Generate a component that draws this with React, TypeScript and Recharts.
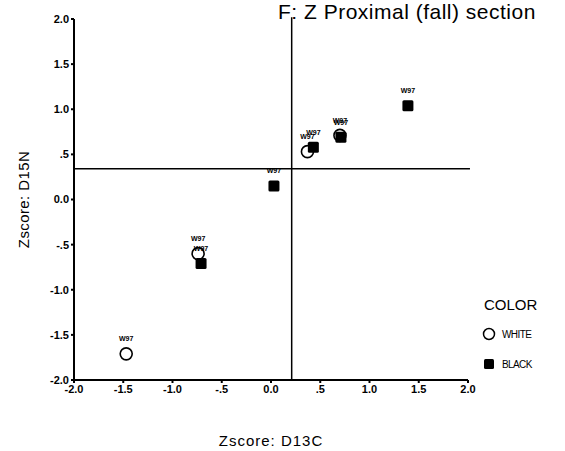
import React from 'react';
import {
  ScatterChart,
  Scatter,
  XAxis,
  YAxis,
  ReferenceLine,
  LabelList,
  Label,
} from 'recharts';

// Zscore: D13C / D15N
const whiteX = [-1.47, -0.74, 0.37, 0.7];
const whiteY = [-1.71, -0.6, 0.53, 0.71];
const blackX = [-0.71, 0.03, 0.43, 0.71, 1.39];
const blackY = [-0.71, 0.15, 0.58, 0.69, 1.04];
const pointLabels = ['W97', 'W97', 'W97', 'W97', 'W97'];
const ticks = [-2, -1.5, -1, -0.5, 0, 0.5, 1, 1.5, 2];
const meanX = 0.21;
const meanY = 0.34;

const whiteData = whiteX.map((x, i) => ({ x, y: whiteY[i], label: pointLabels[i] }));
const blackData = blackX.map((x, i) => ({ x, y: blackY[i], label: pointLabels[i] }));

const fmt = (v: number) => {
  const s = Math.abs(v).toFixed(1);
  const t = Math.abs(v) < 1 && v !== 0 ? s.slice(1) : s;
  return v < 0 ? '-' + t : t;
};

const font = '"Liberation Sans", Arial, sans-serif';

const WhiteDot = (p: any) => (
  <circle cx={p.cx} cy={p.cy} r={6} fill="#fff" stroke="#000" strokeWidth={1.6} />
);
const BlackDot = (p: any) => (
  <rect x={p.cx - 5.5} y={p.cy - 5.5} width={11} height={11} rx={1.5} fill="#000" />
);

const LegendBox = () => (
  <div style={{ position: 'absolute', left: 482, top: 296, fontFamily: font, color: '#000' }}>
    <div style={{ fontSize: 15, marginBottom: 14, marginLeft: 2 }}>COLOR</div>
    <div style={{ display: 'flex', alignItems: 'center', marginBottom: 16 }}>
      <svg width={14} height={14}><circle cx={7} cy={7} r={5.5} fill="#fff" stroke="#000" strokeWidth={1.5} /></svg>
      <span style={{ fontSize: 10, marginLeft: 6, letterSpacing: -0.6 }}>WHITE</span>
    </div>
    <div style={{ display: 'flex', alignItems: 'center' }}>
      <svg width={14} height={14}><rect x={2} y={2} width={10} height={10} rx={1.5} fill="#000" /></svg>
      <span style={{ fontSize: 10, marginLeft: 6, letterSpacing: -0.6 }}>BLACK</span>
    </div>
  </div>
);

export default function App() {
  return (
    <div style={{ position: 'absolute', left: 0, top: 0, width: 565, height: 451, background: '#fff' }}>
      <ScatterChart
        width={565}
        height={451}
        margin={{ top: 19, right: 97, bottom: 41, left: 30 }}
        style={{ fontFamily: font }}
      >
        <text x={278} y={19} fontSize={21} letterSpacing={0.5} fill="#000" fontFamily={font}>
          F: Z Proximal (fall) section
        </text>
        <XAxis
          type="number"
          dataKey="x"
          domain={[-2, 2]}
          ticks={ticks}
          tickFormatter={fmt}
          height={30}
          axisLine={{ stroke: '#000', strokeWidth: 2 }}
          tickLine={{ stroke: '#000', strokeWidth: 2 }}
          tickSize={3}
          tick={{ fill: '#000', fontSize: 11, fontWeight: 'bold' }}
        >
          <Label value="Zscore: D13C" position="insideBottom" offset={-36} fill="#000" fontSize={15} letterSpacing={1} />
        </XAxis>
        <YAxis
          type="number"
          dataKey="y"
          domain={[-2, 2]}
          ticks={ticks}
          tickFormatter={fmt}
          width={44}
          axisLine={{ stroke: '#000', strokeWidth: 2 }}
          tickLine={{ stroke: '#000', strokeWidth: 2 }}
          tickSize={3}
          tick={{ fill: '#000', fontSize: 11, fontWeight: 'bold' }}
        >
          <Label value="Zscore: D15N" angle={-90} position="insideLeft" offset={-6} fill="#000" fontSize={15} letterSpacing={0.4} style={{ textAnchor: 'middle' }} />
        </YAxis>
        <ReferenceLine
          segment={[{ x: -2, y: meanY }, { x: 2.02, y: meanY }]}
          stroke="#000"
          strokeWidth={1.5}
          ifOverflow="visible"
        />
        <ReferenceLine
          segment={[{ x: meanX, y: -2 }, { x: meanX, y: 2.02 }]}
          stroke="#000"
          strokeWidth={1.5}
          ifOverflow="visible"
        />
        <Scatter name="WHITE" data={whiteData} shape={WhiteDot} isAnimationActive={false}>
          <LabelList dataKey="label" position="top" offset={8} fontSize={7} fill="#000" fontWeight="bold" />
        </Scatter>
        <Scatter name="BLACK" data={blackData} shape={BlackDot} isAnimationActive={false}>
          <LabelList dataKey="label" position="top" offset={8} fontSize={7} fill="#000" fontWeight="bold" />
        </Scatter>
      </ScatterChart>
      <LegendBox />
    </div>
  );
}
